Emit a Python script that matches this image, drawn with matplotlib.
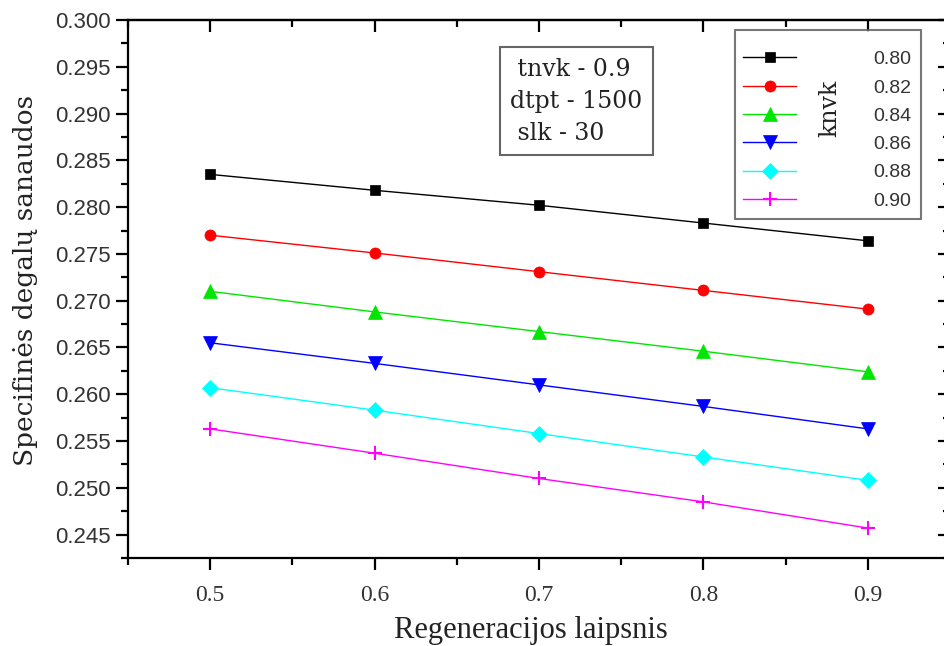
import matplotlib
matplotlib.use("Agg")
import matplotlib.pyplot as plt
from matplotlib.ticker import MultipleLocator, FormatStrFormatter
import numpy as np

# regeneration degree on x axis
regen = [0.5, 0.6, 0.7, 0.8, 0.9]

# specific fuel consumption, one series per knvk value
knvk_labels = ["0.80", "0.82", "0.84", "0.86", "0.88", "0.90"]
sfc_080 = [0.2835, 0.2818, 0.2802, 0.2783, 0.2764]
sfc_082 = [0.2770, 0.2751, 0.2731, 0.2711, 0.2691]
sfc_084 = [0.2710, 0.2688, 0.2667, 0.2646, 0.2624]
sfc_086 = [0.2655, 0.2633, 0.2610, 0.2587, 0.2563]
sfc_088 = [0.2607, 0.2583, 0.2558, 0.2533, 0.2508]
sfc_090 = [0.2563, 0.2537, 0.2510, 0.2485, 0.2457]

series = [sfc_080, sfc_082, sfc_084, sfc_086, sfc_088, sfc_090]
colors = ["black", "red", "#00e600", "blue", "cyan", "magenta"]
markers = ["s", "o", "^", "v", "D", "+"]
msizes = [7, 8, 10, 10, 8, 10]

W, H = 945, 646
fig = plt.figure(figsize=(W / 100, H / 100), dpi=100)
# axes box in pixels: left 128, right 950 (runs off the image), top 20, bottom 558
ax = fig.add_axes([128 / W, (H - 558) / H, (950 - 128) / W, (558 - 20) / H])

handles = []
for ys, c, m, ms, lab in zip(series, colors, markers, msizes, knvk_labels):
  h, = ax.plot(regen, ys, color=c, lw=1.0, marker=m, ms=ms,
               mew=1.5 if m == "+" else 0.5, mec=c, mfc=c, label=lab)
  handles.append(h)

ax.set_xlim(0.45, 0.95)
ax.set_ylim(0.2425, 0.300)

ax.xaxis.set_major_locator(MultipleLocator(0.1))
ax.xaxis.set_minor_locator(MultipleLocator(0.05))
ax.yaxis.set_major_locator(MultipleLocator(0.005))
ax.yaxis.set_minor_locator(MultipleLocator(0.0025))
ax.xaxis.set_major_formatter(FormatStrFormatter("%.1f"))
ax.yaxis.set_major_formatter(FormatStrFormatter("%.3f"))

for sp in ax.spines.values():
  sp.set_linewidth(1.6)

MAJ, MIN = 8.6, 5
ax.tick_params(axis="both", which="both", width=1.6)
ax.tick_params(axis="x", which="major", length=MAJ, direction="out", top=False)
ax.tick_params(axis="x", which="minor", length=MIN, direction="out", top=False)
ax.tick_params(axis="y", which="major", length=MAJ, direction="out", right=False)
ax.tick_params(axis="y", which="minor", length=MIN, direction="out", right=False)

# top and right ticks point inward
sec_x = ax.secondary_xaxis("top")
sec_x.xaxis.set_major_locator(MultipleLocator(0.1))
sec_x.xaxis.set_minor_locator(MultipleLocator(0.05))
sec_x.tick_params(which="major", direction="in", length=MAJ, width=1.6, labeltop=False)
sec_x.tick_params(which="minor", direction="in", length=MIN, width=1.6)
sec_x.spines["top"].set_linewidth(1.6)
sec_y = ax.secondary_yaxis("right")
sec_y.yaxis.set_major_locator(MultipleLocator(0.005))
sec_y.yaxis.set_minor_locator(MultipleLocator(0.0025))
sec_y.tick_params(which="major", direction="in", length=MAJ, width=1.6, labelright=False)
sec_y.tick_params(which="minor", direction="in", length=MIN, width=1.6)

for lbl in ax.get_yticklabels():
  lbl.set_fontfamily("Liberation Sans")
  lbl.set_fontsize(16)
  lbl.set_color("#333333")
for lbl in ax.get_xticklabels():
  lbl.set_fontfamily("Liberation Serif")
  lbl.set_fontsize(17)
  lbl.set_color("#333333")
ax.tick_params(axis="x", pad=11)
ax.tick_params(axis="y", pad=4)

ax.set_xlabel("Regeneracijos laipsnis", fontsize=22, family="Liberation Serif",
              color="#222222")
ax.xaxis.set_label_coords(0.49, -0.108)
ax.set_ylabel("Specifinės degalų sanaudos", fontsize=19, family="DejaVu Serif",
              color="#222222")
ax.yaxis.set_label_coords(-0.11, 0.515)

# parameter box
ax.text(0.465, 0.93, " tnvk - 0.9\ndtpt - 1500\n slk - 30", transform=ax.transAxes,
        fontsize=17, family="DejaVu Serif", color="#222222", va="top", ha="left",
        linespacing=1.5,
        bbox=dict(boxstyle="square,pad=0.45", fc="white", ec="#666666", lw=1.5))

leg = ax.legend(handles=handles, labels=knvk_labels, loc="upper left",
                bbox_to_anchor=(0.738, 0.981), borderaxespad=0,
                frameon=True, fancybox=False, edgecolor="#555555",
                prop={"family": "Liberation Sans", "size": 14},
                title=" ", title_fontproperties={"size": 1},
                handlelength=2.7, handletextpad=4.0, labelspacing=0.55,
                borderpad=0.45)
leg.get_frame().set_linewidth(1.5)
for t in leg.get_texts():
  t.set_color("#333333")
ax.text(0.854, 0.836, "knvk", transform=ax.transAxes, rotation=90,
        fontsize=17, family="DejaVu Serif", color="#222222",
        ha="center", va="center", zorder=10)

fig.savefig("out.png", dpi=100)
